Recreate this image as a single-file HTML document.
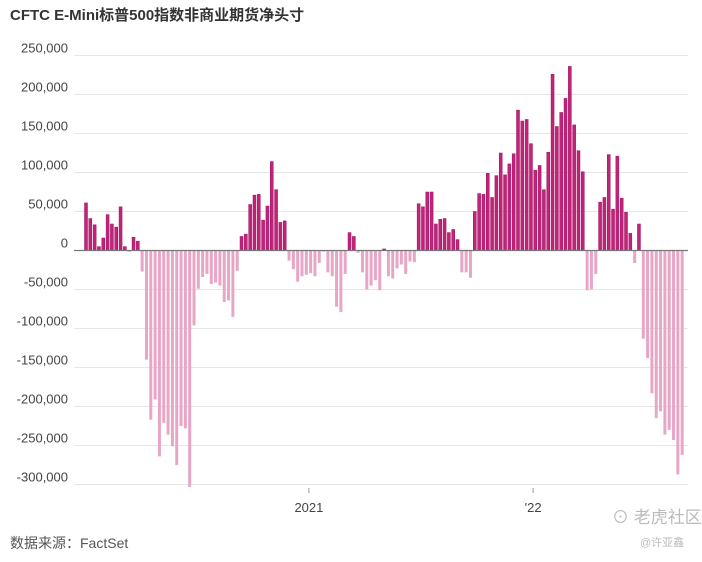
<!DOCTYPE html>
<html><head><meta charset="utf-8"><style>
body{margin:0;background:#fff;width:702px;height:557px;overflow:hidden;font-family:"Liberation Sans","Noto Sans CJK SC",sans-serif}
</style></head><body>
<svg id="chart" width="702" height="557" xmlns="http://www.w3.org/2000/svg" font-family="Liberation Sans, Noto Sans CJK SC, sans-serif">
<text x="10" y="20" font-size="15" font-weight="bold" fill="#333">CFTC E-Mini标普500指数非商业期货净头寸</text>
<g id="grid"></g><g id="bars"></g><g id="axis"></g>
<text x="10" y="548" font-size="14" fill="#555">数据来源：FactSet</text>
<text x="612" y="523" font-size="17" fill="#bbb">⊙ 老虎社区</text>
<text x="640" y="546" font-size="11" fill="#bbb">@许亚鑫</text>
</svg>
<script>
const values = [61,41,33,5,16,46,34,30,56,5,0,17,12,-27,-140,-217,-191,-264,-221,-236,-251,-275,-225,-228,-303,-96,-49,-34,-30,-43,-41,-45,-66,-64,-85,-26,18,21,59,71,72,39,57,114,78,36,38,-13,-24,-40,-33,
-31,-29,-33,-16,0,-28,-33,-72,-79,-30,23,18,-3,-28,-50,-45,-38,-51,2,-33,-36,-23,-18,-30,-14,-15,60,56,75,75,34,40,41,23,27,14,-28,-28,-35,50,73,72,99,
68,96,125,97,111,124,180,166,168,137,103,109,78,126,226,159,177,195,236,161,128,101,-51,-50,-30,62,68,123,53,121,67,49,22,-16,34,-113,-138,-183,-215,-206,-236,-230,-243,-287,-262];
const yTicks = [250,200,150,100,50,0,-50,-100,-150,-200,-250,-300];
const yTickLabels = ["250,000","200,000","150,000","100,000","50,000","0","-50,000","-100,000","-150,000","-200,000","-250,000","-300,000"];
const xTickIndex = [51.6,103.5];
const xTickLabels = ["2021","'22"];
const NS="http://www.w3.org/2000/svg";
const y = v => 250.5 - v*0.78;
const x = i => 84.5 + i*4.32;
function mk(tag, attrs, parent){const e=document.createElementNS(NS,tag);for(const k in attrs)e.setAttribute(k,attrs[k]);parent.appendChild(e);return e;}
const grid=document.getElementById('grid'), bars=document.getElementById('bars'), axis=document.getElementById('axis');
yTicks.forEach((t,i)=>{
  if(t!==0){const l=mk('line',{x1:74,x2:688,y1:y(t),y2:y(t),stroke:'#e6e6e6','stroke-width':1},grid);
  
  }
  const tx=mk('text',{x:68,y:y(t)-3,'text-anchor':'end','font-size':13,fill:'#444'},axis);
  tx.textContent=yTickLabels[i];
  
  
});
values.forEach((v,i)=>{
  const top=Math.min(y(v),y(0)), h=Math.abs(y(v)-y(0));
  const r=mk('rect',{x:x(i),y:top,width:3,height:Math.max(h,0.5),fill:v>=0?'#c2237a':'#e8a6c6',stroke:v>=0?'#9c1560':'none','stroke-width':0.5},bars);
  
  
});
const z=mk('line',{x1:74,x2:688,y1:y(0),y2:y(0),stroke:'#777','stroke-width':1.2},axis);


xTickIndex.forEach((ix,i)=>{
  const tk=mk('line',{x1:x(ix)+1.5,x2:x(ix)+1.5,y1:488,y2:493,stroke:'#999','stroke-width':1},axis);
  
  
  const t=mk('text',{x:x(ix)+1.5,y:512,'text-anchor':'middle','font-size':13,fill:'#444'},axis);
  t.textContent=xTickLabels[i];
  
  
});
</script>
</body></html>
